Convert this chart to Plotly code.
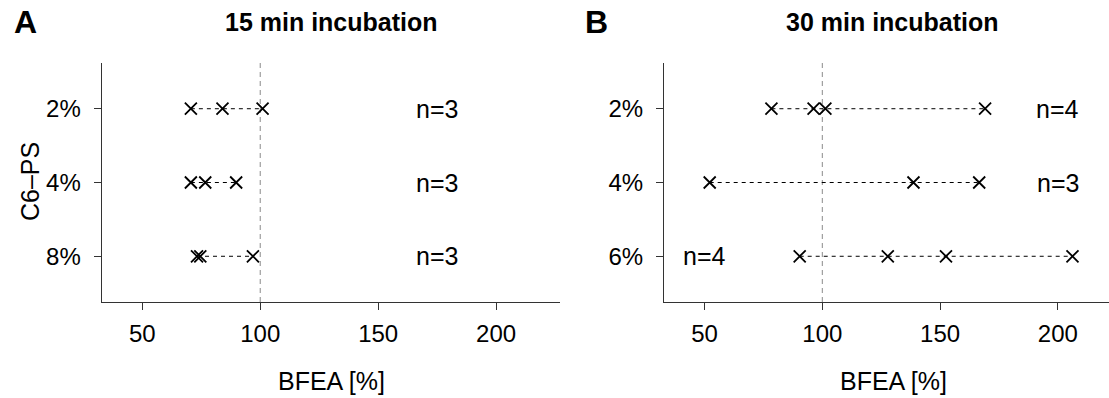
import plotly.graph_objects as go

# ---- data ----
left_categories = ["2%", "4%", "8%"]
left_values = [
    [70.6, 84.0, 101.0],
    [70.6, 76.7, 89.8],
    [73.2, 74.6, 96.9],
]
left_n = ["n=3", "n=3", "n=3"]

right_categories = ["2%", "4%", "6%"]
right_values = [
    [78.4, 96.3, 101.3, 169.1],
    [52.2, 138.7, 166.6],
    [90.4, 127.8, 152.5, 206.2],
]
right_n = ["n=4", "n=3", "n=4"]

x_ticks = [50, 100, 150, 200]
reference_value = 100

# ---- layout constants ----
W, H = 1109, 398
FONT = "Liberation Sans, Arial, sans-serif"
left_n_x = [175, 175, 175]
right_n_x = [200, 200, 50]


def px(x):
    return x / W


def py(y):
    return 1 - y / H


fig = go.Figure()

panels = [
    ("x", "y", left_categories, left_values, left_n, left_n_x),
    ("x2", "y2", right_categories, right_values, right_n, right_n_x),
]

annotations = []
shapes = []
for xa, ya, cats, vals, ns, nx in panels:
    for i, row in enumerate(vals):
        xs = sorted(row)
        fig.add_trace(go.Scatter(
            x=xs, y=[i + 1] * len(xs), xaxis=xa, yaxis=ya,
            mode="lines+markers",
            line=dict(color="black", width=1, dash="4px,4px"),
            marker=dict(symbol="x-thin", size=12, line=dict(color="black", width=1.8)),
            showlegend=False, hoverinfo="x",
        ))
        annotations.append(dict(
            x=nx[i], y=i + 1, xref=xa, yref=ya, text=ns[i], showarrow=False,
            font=dict(family=FONT, size=25, color="black"),
            xanchor="center", yanchor="middle",
        ))
    shapes.append(dict(
        type="line", xref=xa, yref=ya + " domain", x0=reference_value, x1=reference_value,
        y0=0, y1=1, line=dict(color="#8a8a8a", width=1, dash="5px,4px"), layer="below",
    ))

y_dom = [py(302), py(63)]
axis_common = dict(
    showline=True, linecolor="#333333", linewidth=1.2, ticks="outside",
    ticklen=7, tickwidth=1.2, tickcolor="#333333", showgrid=False, zeroline=False,
    tickfont=dict(family=FONT, size=24, color="black"), mirror=False,
)

fig.update_layout(
    width=W, height=H,
    margin=dict(l=0, r=0, t=0, b=0),
    paper_bgcolor="white", plot_bgcolor="white",
    xaxis=dict(domain=[px(101.7), px(560.3)], range=[32.8, 227.2], anchor="y",
               tickvals=x_ticks, ticklabelstandoff=3, **axis_common),
    yaxis=dict(domain=y_dom, range=[3.62, 0.38], anchor="x",
               tickvals=[1, 2, 3], ticktext=left_categories, ticklabelstandoff=8,
               **axis_common),
    xaxis2=dict(domain=[px(664), 1.0], range=[32.8, 221.7], anchor="y2",
                tickvals=x_ticks, ticklabelstandoff=3, **axis_common),
    yaxis2=dict(domain=y_dom, range=[3.62, 0.38], anchor="x2",
                tickvals=[1, 2, 3], ticktext=right_categories, ticklabelstandoff=8,
                **axis_common),
    shapes=shapes,
)

annotations += [
    dict(x=px(25), y=py(22), xref="paper", yref="paper", text="<b>A</b>", showarrow=False,
         font=dict(family=FONT, size=32, color="black"), xanchor="center", yanchor="middle"),
    dict(x=px(596), y=py(22), xref="paper", yref="paper", text="<b>B</b>", showarrow=False,
         font=dict(family=FONT, size=32, color="black"), xanchor="center", yanchor="middle"),
    dict(x=px(331), y=py(22), xref="paper", yref="paper", text="<b>15 min incubation</b>",
         showarrow=False, font=dict(family=FONT, size=25, color="black"),
         xanchor="center", yanchor="middle"),
    dict(x=px(892), y=py(22), xref="paper", yref="paper", text="<b>30 min incubation</b>",
         showarrow=False, font=dict(family=FONT, size=25, color="black"),
         xanchor="center", yanchor="middle"),
    dict(x=px(331), y=py(381), xref="paper", yref="paper", text="BFEA [%]",
         showarrow=False, font=dict(family=FONT, size=25, color="black"),
         xanchor="center", yanchor="middle"),
    dict(x=px(893), y=py(381), xref="paper", yref="paper", text="BFEA [%]",
         showarrow=False, font=dict(family=FONT, size=25, color="black"),
         xanchor="center", yanchor="middle"),
    dict(x=px(30), y=py(182), xref="paper", yref="paper", text="C6–PS", textangle=-90,
         showarrow=False, font=dict(family=FONT, size=25, color="black"),
         xanchor="center", yanchor="middle"),
]
fig.update_layout(annotations=annotations)

fig.write_html("out.html", config={"displayModeBar": False},
               post_script="document.body.style.margin='0px';")
